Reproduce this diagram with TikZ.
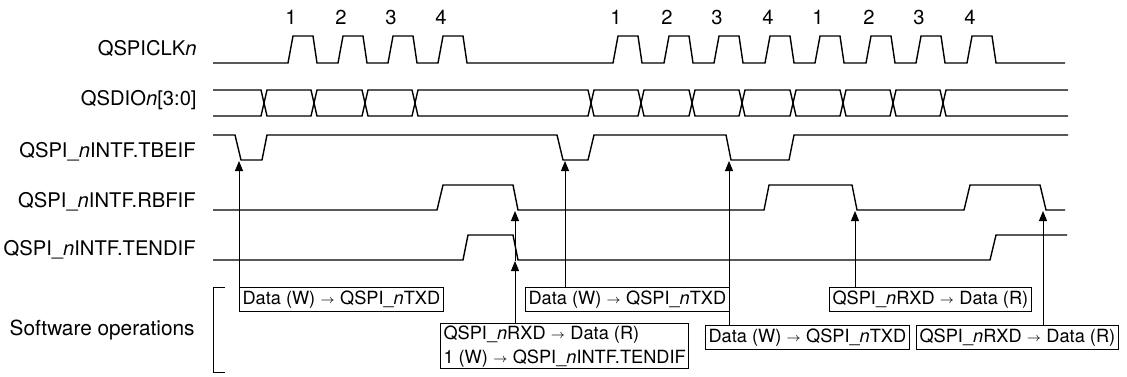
\documentclass[tikz,border=0pt]{standalone}
\usepackage{fontspec}
\setmainfont{TeX Gyre Heros}
\usetikzlibrary{positioning, arrows.meta, calc}

\newcommand{\opto}{\raisebox{0.4pt}{$\scriptstyle\rightarrow$}}

\begin{document}
\begin{tikzpicture}[
    x=0.5pt, y=-0.5pt,
    font=\fontsize{10.1}{12}\selectfont,
    wave/.style={line width=0.7pt, line join=miter},
    trig/.style={line width=0.5pt, -{Triangle[length=5pt, width=4pt]}},
    link/.style={line width=0.5pt},
    opbox/.style={draw, line width=0.5pt, inner xsep=1.5pt, inner ysep=1pt,
        minimum height=12pt, align=left, anchor=north west,
        font=\fontsize{9.1}{12}\selectfont},
    signame/.style={anchor=base east, inner sep=0pt},
    count/.style={inner sep=0pt}
]

\useasboundingbox (0,0) rectangle (1127,376);

% Levels (y of high / low)
\def\start{213}
\def\clkhi{36}  \def\clklo{63}
\def\bustop{90} \def\busbot{116} \def\busmid{103}
\def\tbhi{135}  \def\tblo{160}
\def\rbhi{185}  \def\rblo{210}
\def\tehi{235}  \def\telo{260}

% Signal names
\node[signame] (clkname) at (197,55)  {QSPICLK\textit{n}};
\node[signame] (dioname) at (197,105) {QSDIO\textit{n}[3:0]};
\node[signame] (tbname)  at (196,157) {QSPI\_\textit{n}INTF.TBEIF};
\node[signame] (rbname)  at (196,207) {QSPI\_\textit{n}INTF.RBFIF};
\node[signame] (tename)  at (196,255) {QSPI\_\textit{n}INTF.TENDIF};
\node[signame, font=\fontsize{10.4}{12}\selectfont] (swname) at (195,335) {Software operations};

% Clock with its pulse numbers
\draw[wave] (\start,\clklo)
    foreach \r in {288,338,388,438,613,664,714,765,815,866,916,967} {
        -- (\r,\clklo) -- (\r+5,\clkhi) -- (\r+25,\clkhi) -- (\r+29,\clklo)
    } -- (1065,\clklo);
\foreach \r/\k in {288/1,338/2,388/3,438/4,613/1,664/2,714/3,765/4,815/1,866/2,916/3,967/4}
    \node[count] (cnt\r) at (\r+3,17) {\k};

% Data bus
\draw[wave] (\start,\bustop) -- (261,\bustop) -- (264,\busmid) -- (261,\busbot) -- (\start,\busbot);
\foreach \a/\b in {264/314,314/365,365/415,415/591,591/641,641/692,692/742,742/793,793/843,843/893,893/943}
    \draw[wave] (\a,\busmid) -- (\a+3,\bustop) -- (\b-3,\bustop) -- (\b,\busmid)
        -- (\b-3,\busbot) -- (\a+3,\busbot) -- cycle;
\draw[wave] (1068,\bustop) -- (946,\bustop) -- (943,\busmid) -- (946,\busbot) -- (1068,\busbot);

% Flags
\draw[wave] (\start,\tbhi) -- (235,\tbhi) -- (241,\tblo) -- (262,\tblo) -- (267,\tbhi)
    -- (557,\tbhi) -- (563,\tblo) -- (588,\tblo) -- (594,\tbhi)
    -- (726,\tbhi) -- (731,\tblo) -- (789,\tblo) -- (794,\tbhi) -- (1068,\tbhi);
\draw[wave] (\start,\rblo) -- (437,\rblo) -- (443,\rbhi) -- (513,\rbhi) -- (518,\rblo)
    -- (764,\rblo) -- (769,\rbhi) -- (852,\rbhi) -- (857,\rblo)
    -- (964,\rblo) -- (970,\rbhi) -- (1040,\rbhi) -- (1046,\rblo) -- (1065,\rblo);
\draw[wave] (\start,\telo) -- (463,\telo) -- (468,\tehi) -- (513,\tehi) -- (518,\telo)
    -- (990,\telo) -- (996,\tehi) -- (1067,\tehi);

% Points hit by the software
\coordinate (tb1) at (239,\tblo+1);
\coordinate (tb2) at (565,\tblo+1);
\coordinate (tb3) at (729,\tblo+1);
\coordinate (rb1) at (515,\rblo+1);
\coordinate (rb2) at (855,\rblo+1);
\coordinate (rb3) at (1043,\rblo+1);
\coordinate (te1) at (515,\telo+1);

% Software operations
\draw[link] (225,287) -- (213,287) -- (213,372) -- (225,372);
\node[opbox] (wr1) at (239,287) {Data (W) \opto{} QSPI\_\textit{n}TXD};
\node[opbox] (rd1) at (440,323) {QSPI\_\textit{n}RXD \opto{} Data (R)\\
    1 (W) \opto{} QSPI\_\textit{n}INTF.TENDIF};
\node[opbox] (wr2) at (525,287) {Data (W) \opto{} QSPI\_\textit{n}TXD};
\node[opbox] (wr3) at (705,325) {Data (W) \opto{} QSPI\_\textit{n}TXD};
\node[opbox] (rd2) at (829,287) {QSPI\_\textit{n}RXD \opto{} Data (R)};
\node[opbox] (rd3) at (916,325) {QSPI\_\textit{n}RXD \opto{} Data (R)};

\draw[trig] (wr1.north west) -- (tb1);
\draw[trig] (rd1.north -| te1) -- (te1);
\draw[trig] (te1) -- (rb1);
\draw[trig] (wr2.north -| tb2) -- (tb2);
\draw[trig] (wr3.north -| tb3) -- (tb3);
\draw[trig] (rd2.north -| rb2) -- (rb2);
\draw[trig] (rd3.north -| rb3) -- (rb3);

\end{tikzpicture}
\end{document}
